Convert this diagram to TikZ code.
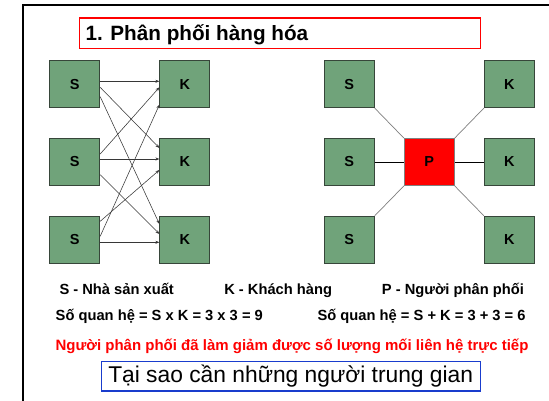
\documentclass[tikz,border=0pt]{standalone}
\usepackage{fontspec}
\setmainfont{Liberation Sans}
\usetikzlibrary{arrows.meta,calc}
\definecolor{boxgreen}{RGB}{112,163,122}
\definecolor{boxedge}{RGB}{55,70,58}
\definecolor{pred}{RGB}{255,0,0}
\definecolor{bluebox}{RGB}{25,60,205}
\definecolor{linkgray}{RGB}{128,128,128}
\definecolor{arrowgray}{RGB}{55,55,55}
\tikzset{
  gbox/.style={draw=boxedge,line width=0.8pt,fill=boxgreen,minimum width=50pt,minimum height=47pt,inner sep=0pt,font=\fontsize{14.5}{16}\selectfont\bfseries},
  pbox/.style={gbox,fill=pred,draw=linkgray},
  flow/.style={draw=arrowgray,line width=0.55pt,-{Stealth[length=4pt,width=3pt]}},
  graylink/.style={draw=linkgray,line width=0.7pt},
  blacklink/.style={draw=black,line width=0.9pt},
  legend/.style={anchor=base,inner sep=0pt,font=\fontsize{14.7}{16}\selectfont\bfseries}
}
\begin{document}
\begin{tikzpicture}[x=1pt,y=-1pt]
\useasboundingbox (0,0) rectangle (549,401);
\clip (0,0) rectangle (549,401);
\fill[white] (0,0) rectangle (549,401);
% frame
\draw[line width=2pt,black] (22.7,420) -- (22.7,5.3) -- (560,5.3);
% title
\node[draw=pred,line width=1.3pt,minimum width=401pt,minimum height=30.7pt,inner sep=0pt] (titlebox) at (280.2,33.35) {};
\node[anchor=base west,inner sep=0pt,font=\fontsize{20.7}{24}\selectfont\bfseries] (title) at (85.3,41) {1. Phân phối hàng hóa};
% left diagram
\node[gbox] (s1) at (74.8,84.2) {S};
\node[gbox] (s2) at (74.8,162) {S};
\node[gbox] (s3) at (74.8,239.7) {S};
\node[gbox] (k1) at (184.8,84.2) {K};
\node[gbox] (k2) at (184.8,162) {K};
\node[gbox] (k3) at (184.8,239.7) {K};
\draw[flow] ($(s1.east)+(0,-2.9)$) -- ($(k1.west)+(0,-2.9)$);
\draw[flow] ($(s1.east)+(0,3.1)$) -- ($(k2.west)+(0,-14)$);
\draw[flow] ($(s1.east)+(0,12.5)$) -- ($(k3.west)+(0,-15.7)$);
\draw[flow] ($(s2.east)+(0,-8)$) -- ($(k1.west)+(0,3.1)$);
\draw[flow] ($(s2.east)+(0,-3)$) -- ($(k2.west)+(0,-3)$);
\draw[flow] ($(s2.east)+(0,12.7)$) -- ($(k3.west)+(0,-5.7)$);
\draw[flow] ($(s3.east)+(0,-18.4)$) -- ($(k2.west)+(0,8)$);
\draw[flow] ($(s3.east)+(0,-3.4)$) -- ($(k1.west)+(0,20.5)$);
\draw[flow] ($(s3.east)+(0,2.6)$) -- ($(k3.west)+(0,2.6)$);
% right diagram
\node[gbox] (rs1) at (349.3,84.2) {S};
\node[gbox] (rs2) at (349.3,162) {S};
\node[gbox] (rs3) at (349.3,239.7) {S};
\node[gbox] (rk1) at (509.3,84.2) {K};
\node[gbox] (rk2) at (509.3,162) {K};
\node[gbox] (rk3) at (509.3,239.7) {K};
\node[pbox] (p) at (429.3,162) {P};
\draw[graylink] (rs1.south east) -- (p.north west);
\draw[graylink] (rk1.south west) -- (p.north east);
\draw[graylink] (rs3.north east) -- (p.south west);
\draw[graylink] (rk3.north west) -- (p.south east);
\draw[blacklink] (rs2.east) -- (p.west);
\draw[blacklink] (p.east) -- (rk2.west);
% legends
\node[legend] (ls) at (116.7,294.5) {S - Nhà sản xuất};
\node[legend] (lk) at (278.2,294.5) {K - Khách hàng};
\node[legend] (lp) at (452.9,294.5) {P - Người phân phối};
\node[legend] (q1) at (159.3,320.3) {Số quan hệ = S x K = 3 x 3 = 9};
\node[legend] (q2) at (421.6,320.3) {Số quan hệ = S + K = 3 + 3 = 6};
\node[legend,text=pred,font=\fontsize{15}{17}\selectfont\bfseries] (note) at (292,350) {Người phân phối đã làm giảm được số lượng mối liên hệ trực tiếp};
% bottom box
\node[draw=bluebox,line width=1.3pt,minimum width=378.7pt,minimum height=29.7pt,inner sep=0pt] (qbox) at (291.05,376.15) {};
\node[anchor=base,inner sep=0pt,font=\fontsize{22.8}{26}\selectfont] (question) at (290.7,382) {Tại sao cần những người trung gian};
\end{tikzpicture}
\end{document}
